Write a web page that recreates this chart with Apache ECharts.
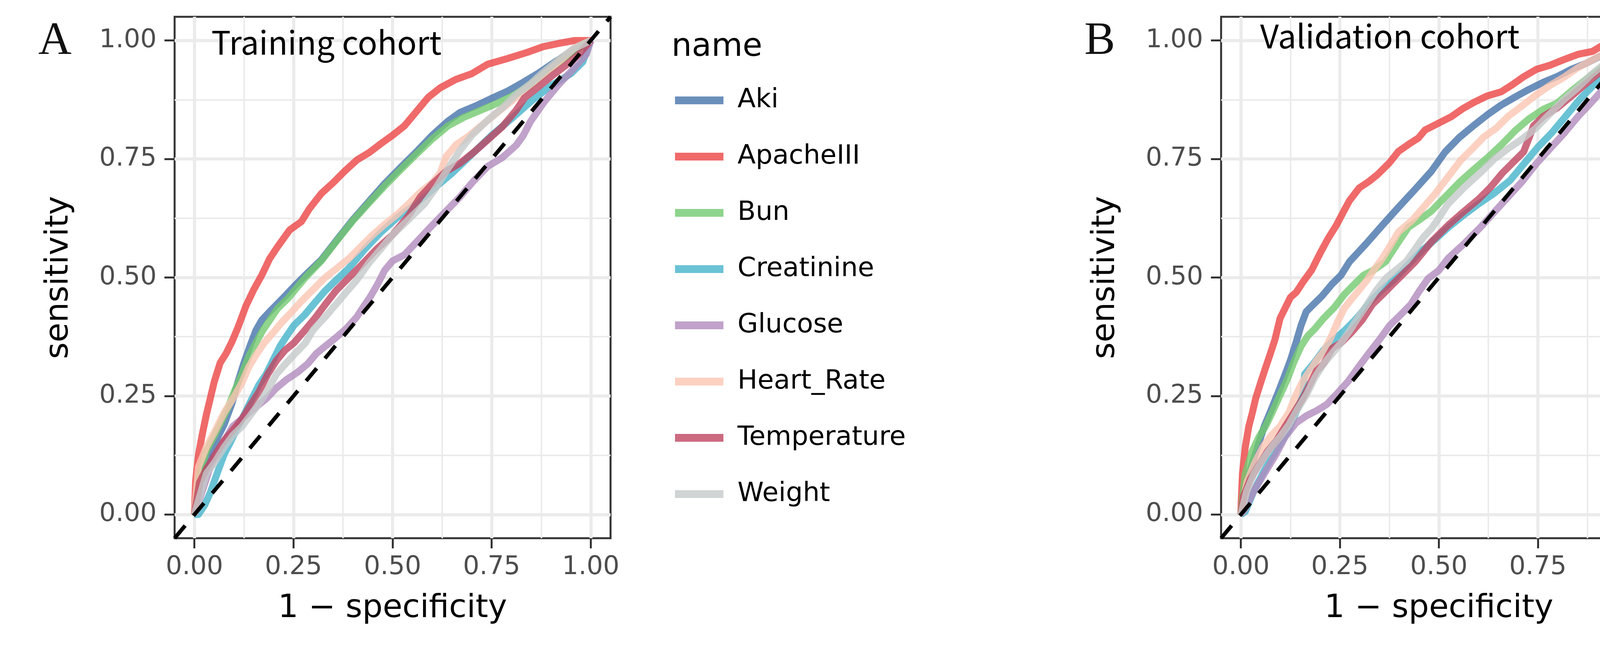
<!DOCTYPE html>
<html><head><meta charset="utf-8">
<script src="https://cdn.jsdelivr.net/npm/echarts@6/dist/echarts.min.js"></script>
<style>html,body{margin:0;padding:0;background:#fff;overflow:hidden}#c{width:5196px;height:1654px}</style>
</head><body><div id="c"></div>
<script>
// ---------- data ----------
const seriesNames = ['Aki','ApacheIII','Bun','Creatinine','Glucose','Heart_Rate','Temperature','Weight'];
const seriesColors = ['rgba(70,115,170,0.8)','rgba(236,69,69,0.8)','rgba(115,201,111,0.8)','rgba(69,179,203,0.8)',
                      'rgba(176,139,189,0.8)','rgba(251,198,179,0.8)','rgba(190,69,96,0.8)','rgba(196,201,201,0.8)'];
const tickValues = [0, 0.25, 0.5, 0.75, 1];
const minorValues = [0.125, 0.375, 0.625, 0.875];
const axisMin = -0.05, axisMax = 1.05;
const refLine = [[-0.05,-0.05],[1.05,1.05]];
const panelTitles = ['Training cohort','Validation cohort'];
const panelTags = ['A','B'];

// Training cohort
const trainAki = [[0,0],[0.015,0.07],[0.04,0.125],[0.06,0.165],[0.075,0.19],[0.095,0.235],[0.11,0.28],[0.125,0.32],[0.14,0.355],[0.155,0.388],[0.17,0.41],[0.19,0.428],[0.21,0.445],[0.23,0.462],[0.25,0.48],[0.28,0.505],[0.32,0.537],[0.36,0.58],[0.4,0.622],[0.44,0.66],[0.48,0.698],[0.52,0.732],[0.56,0.765],[0.6,0.8],[0.64,0.83],[0.67,0.848],[0.71,0.862],[0.75,0.878],[0.79,0.893],[0.83,0.912],[0.87,0.932],[0.91,0.955],[0.95,0.975],[1,1]];
const trainApache = [[0,0],[0.003,0.07],[0.01,0.125],[0.02,0.17],[0.03,0.21],[0.04,0.245],[0.05,0.28],[0.065,0.32],[0.08,0.34],[0.095,0.365],[0.11,0.395],[0.13,0.44],[0.15,0.475],[0.17,0.505],[0.19,0.54],[0.21,0.565],[0.24,0.6],[0.27,0.618],[0.29,0.645],[0.32,0.677],[0.35,0.7],[0.38,0.725],[0.41,0.748],[0.44,0.763],[0.47,0.782],[0.5,0.8],[0.53,0.82],[0.56,0.85],[0.59,0.88],[0.62,0.9],[0.66,0.918],[0.7,0.93],[0.74,0.95],[0.79,0.962],[0.84,0.975],[0.88,0.987],[0.92,0.994],[0.96,1.0],[1,1]];
const trainBun = [[0,0],[0.013,0.086],[0.03,0.134],[0.053,0.171],[0.07,0.2],[0.085,0.226],[0.1,0.258],[0.12,0.296],[0.137,0.333],[0.155,0.362],[0.172,0.388],[0.19,0.41],[0.21,0.435],[0.235,0.455],[0.26,0.48],[0.28,0.5],[0.32,0.535],[0.36,0.578],[0.4,0.62],[0.44,0.657],[0.48,0.693],[0.52,0.727],[0.56,0.76],[0.6,0.792],[0.64,0.82],[0.68,0.838],[0.72,0.852],[0.76,0.866],[0.8,0.882],[0.84,0.902],[0.88,0.928],[0.92,0.955],[0.96,0.978],[1,1]];
const trainCreat = [[0,0],[0.01,0.0],[0.026,0.02],[0.04,0.046],[0.057,0.086],[0.075,0.127],[0.093,0.156],[0.11,0.186],[0.128,0.215],[0.145,0.244],[0.163,0.274],[0.181,0.296],[0.198,0.325],[0.216,0.355],[0.233,0.377],[0.251,0.399],[0.278,0.421],[0.304,0.447],[0.33,0.472],[0.357,0.494],[0.39,0.52],[0.43,0.56],[0.47,0.595],[0.51,0.625],[0.55,0.65],[0.6,0.685],[0.65,0.72],[0.7,0.76],[0.75,0.8],[0.8,0.835],[0.85,0.872],[0.9,0.905],[0.95,0.93],[0.98,0.955],[1,1]];
const trainGluc = [[0,0],[0.02,0.05],[0.04,0.1],[0.066,0.142],[0.097,0.186],[0.128,0.208],[0.154,0.226],[0.181,0.244],[0.207,0.267],[0.233,0.285],[0.26,0.3],[0.286,0.318],[0.308,0.34],[0.33,0.355],[0.357,0.373],[0.383,0.392],[0.41,0.417],[0.427,0.439],[0.445,0.461],[0.463,0.487],[0.48,0.515],[0.5,0.535],[0.53,0.548],[0.555,0.57],[0.6,0.61],[0.635,0.64],[0.67,0.67],[0.706,0.705],[0.741,0.735],[0.777,0.753],[0.812,0.779],[0.83,0.8],[0.848,0.829],[0.883,0.871],[0.918,0.906],[0.954,0.938],[0.989,0.971],[1,1]];
const trainHeart = [[0,0],[0.01,0.1],[0.03,0.142],[0.053,0.178],[0.075,0.215],[0.097,0.244],[0.12,0.278],[0.137,0.311],[0.155,0.336],[0.176,0.362],[0.2,0.385],[0.22,0.405],[0.245,0.427],[0.27,0.45],[0.3,0.475],[0.33,0.5],[0.36,0.52],[0.39,0.54],[0.42,0.565],[0.45,0.59],[0.48,0.612],[0.51,0.632],[0.54,0.655],[0.57,0.68],[0.6,0.7],[0.62,0.72],[0.635,0.755],[0.66,0.78],[0.69,0.797],[0.72,0.818],[0.76,0.845],[0.8,0.872],[0.84,0.9],[0.88,0.928],[0.92,0.956],[0.96,0.985],[1,1]];
const trainTemp = [[0,0],[0.013,0.068],[0.031,0.097],[0.053,0.127],[0.075,0.156],[0.097,0.178],[0.119,0.2],[0.141,0.23],[0.163,0.259],[0.185,0.296],[0.207,0.325],[0.229,0.347],[0.251,0.362],[0.278,0.388],[0.304,0.414],[0.33,0.443],[0.357,0.472],[0.383,0.494],[0.42,0.525],[0.46,0.56],[0.5,0.59],[0.54,0.63],[0.57,0.67],[0.6,0.697],[0.635,0.724],[0.67,0.741],[0.706,0.765],[0.741,0.791],[0.777,0.818],[0.812,0.853],[0.833,0.879],[0.865,0.9],[0.9,0.924],[0.936,0.947],[0.97,0.971],[1,1]];
const trainWeight = [[0,0],[0.03,0.086],[0.053,0.112],[0.075,0.142],[0.097,0.167],[0.12,0.186],[0.14,0.208],[0.163,0.234],[0.185,0.263],[0.207,0.296],[0.23,0.318],[0.25,0.336],[0.28,0.362],[0.3,0.39],[0.33,0.417],[0.357,0.443],[0.383,0.469],[0.41,0.495],[0.44,0.53],[0.47,0.56],[0.5,0.59],[0.54,0.622],[0.58,0.655],[0.61,0.69],[0.64,0.73],[0.67,0.768],[0.7,0.8],[0.74,0.832],[0.78,0.86],[0.81,0.885],[0.85,0.91],[0.88,0.933],[0.92,0.96],[0.955,0.982],[1,1]];

// Validation cohort
const validAki = [[0,0],[0.007,0.05],[0.024,0.094],[0.042,0.142],[0.059,0.186],[0.077,0.222],[0.095,0.259],[0.112,0.296],[0.125,0.325],[0.139,0.362],[0.152,0.399],[0.165,0.428],[0.183,0.443],[0.205,0.461],[0.229,0.485],[0.253,0.505],[0.274,0.533],[0.316,0.571],[0.357,0.61],[0.398,0.648],[0.44,0.686],[0.481,0.724],[0.516,0.765],[0.551,0.795],[0.587,0.82],[0.622,0.843],[0.658,0.864],[0.693,0.881],[0.728,0.897],[0.764,0.912],[0.799,0.924],[0.834,0.939],[0.87,0.951],[0.905,0.966],[0.941,0.977],[0.976,0.992],[1,1]];
const validApache = [[0,0],[0.001,0.03],[0.004,0.086],[0.011,0.142],[0.02,0.186],[0.029,0.215],[0.037,0.244],[0.051,0.281],[0.064,0.314],[0.073,0.336],[0.086,0.369],[0.099,0.414],[0.112,0.436],[0.125,0.458],[0.14,0.469],[0.158,0.492],[0.179,0.516],[0.2,0.551],[0.22,0.582],[0.241,0.61],[0.258,0.637],[0.274,0.662],[0.299,0.689],[0.324,0.703],[0.345,0.717],[0.374,0.741],[0.398,0.766],[0.427,0.783],[0.448,0.794],[0.465,0.811],[0.498,0.825],[0.531,0.839],[0.56,0.856],[0.59,0.87],[0.622,0.883],[0.658,0.892],[0.686,0.907],[0.715,0.924],[0.746,0.939],[0.781,0.948],[0.817,0.96],[0.852,0.971],[0.888,0.977],[0.912,0.989],[0.941,0.995],[0.976,1.0],[1,1]];
const validBun = [[0,0],[0.011,0.086],[0.029,0.134],[0.046,0.164],[0.064,0.189],[0.081,0.219],[0.099,0.252],[0.117,0.285],[0.134,0.322],[0.152,0.355],[0.169,0.377],[0.187,0.392],[0.209,0.414],[0.235,0.436],[0.262,0.465],[0.288,0.487],[0.31,0.505],[0.336,0.516],[0.365,0.533],[0.398,0.575],[0.423,0.606],[0.448,0.62],[0.481,0.64],[0.516,0.67],[0.551,0.7],[0.587,0.727],[0.622,0.752],[0.658,0.78],[0.693,0.81],[0.728,0.835],[0.764,0.855],[0.799,0.868],[0.834,0.893],[0.87,0.917],[0.905,0.938],[0.941,0.96],[0.976,0.983],[1,1]];
const validCreat = [[0,0],[0.011,0.006],[0.033,0.05],[0.055,0.086],[0.077,0.119],[0.099,0.149],[0.121,0.178],[0.139,0.215],[0.156,0.252],[0.161,0.296],[0.183,0.318],[0.209,0.347],[0.235,0.369],[0.262,0.388],[0.288,0.41],[0.315,0.436],[0.332,0.454],[0.359,0.476],[0.385,0.494],[0.42,0.525],[0.455,0.555],[0.49,0.58],[0.523,0.605],[0.56,0.63],[0.6,0.655],[0.64,0.678],[0.68,0.705],[0.715,0.74],[0.75,0.775],[0.785,0.805],[0.82,0.84],[0.855,0.875],[0.89,0.905],[0.925,0.93],[0.96,0.955],[0.985,0.975],[1,1]];
const validGluc = [[0,0],[0.011,0.013],[0.033,0.05],[0.059,0.086],[0.086,0.123],[0.112,0.164],[0.139,0.193],[0.165,0.208],[0.191,0.219],[0.218,0.233],[0.244,0.256],[0.271,0.281],[0.297,0.311],[0.323,0.34],[0.35,0.369],[0.376,0.399],[0.403,0.421],[0.429,0.443],[0.451,0.472],[0.473,0.498],[0.5,0.515],[0.523,0.54],[0.562,0.57],[0.604,0.605],[0.64,0.638],[0.675,0.67],[0.711,0.703],[0.746,0.74],[0.781,0.772],[0.817,0.805],[0.852,0.84],[0.888,0.872],[0.923,0.905],[0.958,0.935],[0.987,0.965],[1,1]];
const validHeart = [[0,0],[0.015,0.068],[0.033,0.105],[0.055,0.142],[0.077,0.167],[0.099,0.186],[0.121,0.215],[0.139,0.252],[0.156,0.281],[0.174,0.303],[0.191,0.325],[0.209,0.344],[0.227,0.373],[0.244,0.406],[0.262,0.436],[0.279,0.454],[0.297,0.472],[0.319,0.495],[0.336,0.516],[0.357,0.54],[0.378,0.568],[0.398,0.596],[0.432,0.62],[0.461,0.648],[0.49,0.676],[0.523,0.712],[0.556,0.748],[0.585,0.772],[0.614,0.797],[0.645,0.815],[0.675,0.84],[0.71,0.862],[0.745,0.885],[0.78,0.905],[0.815,0.922],[0.85,0.942],[0.89,0.96],[0.93,0.978],[0.97,0.995],[1,1]];
const validTemp = [[0,0],[0.007,0.039],[0.024,0.075],[0.046,0.105],[0.068,0.134],[0.09,0.156],[0.112,0.186],[0.134,0.215],[0.156,0.244],[0.174,0.274],[0.191,0.303],[0.209,0.318],[0.231,0.351],[0.253,0.362],[0.279,0.384],[0.306,0.41],[0.332,0.443],[0.359,0.465],[0.385,0.487],[0.407,0.505],[0.44,0.533],[0.481,0.575],[0.523,0.61],[0.56,0.637],[0.6,0.665],[0.63,0.69],[0.66,0.72],[0.69,0.745],[0.714,0.765],[0.728,0.795],[0.739,0.82],[0.764,0.84],[0.799,0.858],[0.834,0.882],[0.87,0.908],[0.905,0.932],[0.941,0.958],[0.976,0.982],[1,1]];
const validWeight = [[0,0],[0.015,0.05],[0.033,0.086],[0.055,0.116],[0.077,0.142],[0.099,0.164],[0.121,0.189],[0.143,0.222],[0.165,0.252],[0.187,0.289],[0.209,0.318],[0.231,0.34],[0.253,0.362],[0.275,0.388],[0.297,0.417],[0.319,0.443],[0.341,0.472],[0.368,0.5],[0.398,0.52],[0.419,0.535],[0.44,0.56],[0.461,0.585],[0.481,0.603],[0.502,0.628],[0.523,0.655],[0.564,0.69],[0.606,0.722],[0.64,0.75],[0.675,0.772],[0.71,0.792],[0.745,0.815],[0.78,0.845],[0.815,0.875],[0.85,0.9],[0.885,0.928],[0.92,0.952],[0.955,0.975],[0.98,0.99],[1,1]];

const trainSeries = [trainAki, trainApache, trainBun, trainCreat, trainGluc, trainHeart, trainTemp, trainWeight];
const validSeries = [validAki, validApache, validBun, validCreat, validGluc, validHeart, validTemp, validWeight];

// ---------- layout ----------
const FONT = 'DejaVu Sans';
const grids = [
  {left: 447, top: 43, width: 1116, height: 1335},
  {left: 3126, top: 43, width: 1115, height: 1335}
];
const legendLeft = [1728, 4406];
const titleLeft = [1719, 4397];
const tagLeft = [98, 2776];
const cohortPos = [[541, 67], [3226, 51]];

function mainX(g) {
  return {type:'value', gridIndex:g, min:axisMin, max:axisMax, position:'bottom',
    axisLine:{show:false, onZero:false},
    axisTick:{show:true, customValues:tickValues, length:26, lineStyle:{color:'#333333', width:5}},
    axisLabel:{customValues:tickValues, formatter:v=>Number(v).toFixed(2), fontSize:66, fontFamily:FONT, color:'#4d4d4d', margin:42},
    splitLine:{show:true, lineStyle:{color:'#ebebeb', width:8}},
    name:'1 \u2212 specificity', nameLocation:'middle', nameGap:140,
    nameTextStyle:{fontSize:82, fontFamily:FONT, color:'#000'}};
}
function minorX(g) {
  return {type:'value', gridIndex:g, min:axisMin, max:axisMax, position:'top',
    axisLine:{show:false, onZero:false}, axisTick:{show:false, customValues:minorValues},
    axisLabel:{show:false, customValues:minorValues},
    splitLine:{show:true, lineStyle:{color:'#ebebeb', width:4}}};
}
function mainY(g) {
  return {type:'value', gridIndex:g, min:axisMin, max:axisMax, position:'left',
    axisLine:{show:false, onZero:false},
    axisTick:{show:true, customValues:tickValues, length:26, lineStyle:{color:'#333333', width:5}},
    axisLabel:{customValues:tickValues, formatter:v=>Number(v).toFixed(2), fontSize:66, fontFamily:FONT, color:'#4d4d4d', margin:46},
    splitLine:{show:true, lineStyle:{color:'#ebebeb', width:8}},
    name:'sensitivity', nameLocation:'middle', nameGap:254,
    nameTextStyle:{fontSize:82, fontFamily:FONT, color:'#000'}};
}
function minorY(g) {
  return {type:'value', gridIndex:g, min:axisMin, max:axisMax, position:'right',
    axisLine:{show:false, onZero:false}, axisTick:{show:false, customValues:minorValues},
    axisLabel:{show:false, customValues:minorValues},
    splitLine:{show:true, lineStyle:{color:'#ebebeb', width:4}}};
}

const xAxes = [], yAxes = [], series = [], titles = [], legends = [];
[trainSeries, validSeries].forEach((set, p) => {
  xAxes.push(mainX(p), minorX(p));
  yAxes.push(mainY(p), minorY(p));
  set.forEach((pts, i) => {
    series.push({type:'line', name:seriesNames[i], xAxisIndex:2*p, yAxisIndex:2*p, data:pts,
      showSymbol:false, symbol:'none', silent:true, z:2,
      lineStyle:{width:18, color:seriesColors[i], join:'round', cap:'butt'},
      itemStyle:{color:seriesColors[i]}});
  });
  series.push({type:'line', name:'ref'+p, xAxisIndex:2*p, yAxisIndex:2*p, data:refLine,
    showSymbol:false, symbol:'none', silent:true, z:3,
    lineStyle:{width:10, color:'#000', type:[42,33]}});
  titles.push({text:'name', left:titleLeft[p], top:81, padding:0,
    textStyle:{fontSize:82, fontFamily:FONT, fontWeight:'normal', color:'#000', lineHeight:82}});
  titles.push({text:panelTags[p], left:tagLeft[p], top:48, padding:0,
    textStyle:{fontSize:118, fontFamily:'Liberation Serif', fontWeight:'normal', color:'#111', lineHeight:118}});
  titles.push({text:panelTitles[p], left:cohortPos[p][0], top:cohortPos[p][1], padding:0,
    textStyle:{fontSize:83, fontFamily:'Noto Sans CJK SC', fontWeight:'normal', color:'#000', lineHeight:83}});
  legends.push({data:seriesNames, orient:'vertical', left:legendLeft[p], top:217, padding:0,
    icon:'rect', itemWidth:124, itemHeight:20, itemGap:64, selectedMode:false,
    textStyle:{fontSize:68, fontFamily:FONT, color:'#000', lineHeight:80, padding:[0,0,0,31]}});
});

const chart = echarts.init(document.getElementById('c'), null, {renderer:'canvas'});
chart.setOption({
  animation:false, backgroundColor:'#ffffff',
  grid: grids.map(g => Object.assign({show:true, borderColor:'#333333', borderWidth:5, backgroundColor:'transparent', containLabel:false}, g)),
  xAxis:xAxes, yAxis:yAxes, series, title:titles, legend:legends
});
</script></body></html>
